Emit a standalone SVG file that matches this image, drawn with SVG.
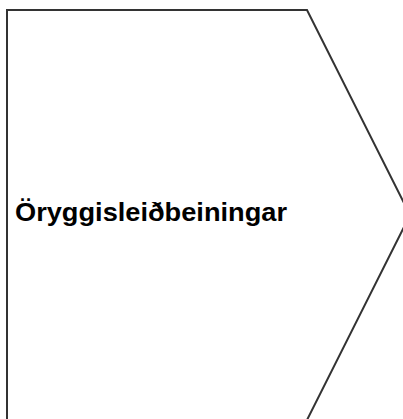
<svg xmlns="http://www.w3.org/2000/svg" width="403" height="419" viewBox="0 0 403 419">
<style>
.shape{fill:#ffffff;stroke:#000000;stroke-width:2;stroke-opacity:0.8}
.label{font-family:"Liberation Sans",Arial,sans-serif;font-weight:bold;font-size:25px;fill:#000000}
</style>
<rect width="403" height="419" fill="#ffffff"/>
<g id="node-safety">
<path class="shape" d="M7,10 L307,10 L410,215 L307,420 L7,420 Z"/>
<text class="label" x="15" y="221" textLength="272" lengthAdjust="spacingAndGlyphs">Öryggisleiðbeiningar</text>
</g>
<g id="connectors"></g>
</svg>
